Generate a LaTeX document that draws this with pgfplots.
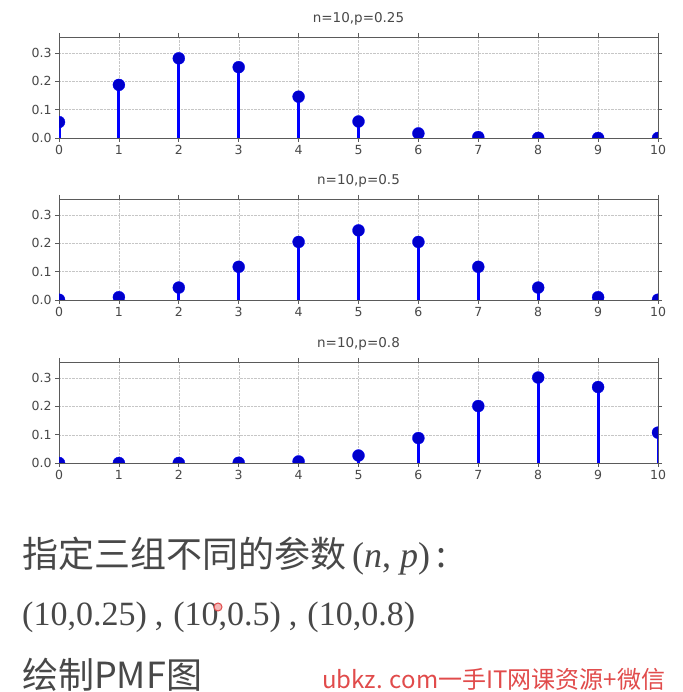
\documentclass[border=0pt]{standalone}
\usepackage{pgfplots}
\pgfplotsset{compat=1.18}
\usepackage{fontspec}
\setmainfont{DejaVu Sans}
\newfontfamily\cjk{Noto Sans CJK SC}
\newfontfamily\tms{Liberation Serif}
\definecolor{mblue}{RGB}{10,10,235}
\definecolor{txtgray}{RGB}{72,72,72}
\definecolor{wmred}{RGB}{225,75,75}
\definecolor{spine}{RGB}{90,90,90}
\pgfplotsset{pmf/.style={
  scale only axis, width=599pt, height=101pt,
  xmin=0, xmax=10, ymin=0, ymax=0.357,
  xtick={0,...,10}, ytick={0,0.1,0.2,0.3},
  yticklabel style={/pgf/number format/.cd,fixed,fixed zerofill,precision=1},
  /pgf/number format/assume math mode=true,
  tick label style={font=\fontsize{12.5}{14}\selectfont, text=txtgray},
  grid=major, major grid style={densely dotted, gray!45},
  axis line style={spine, line width=0.9pt},
  tick align=outside, tick style={spine, line width=0.8pt}, major tick length=4pt,
  title style={font=\fontsize{13.5}{15}\selectfont, text=txtgray, at={(0.5,1)}, anchor=south, yshift=2pt},
  clip marker paths=true,
  every axis plot/.append style={ycomb, mblue, line width=3pt, mark=*, mark size=6pt, mark options={solid, line width=0.3pt, fill=mblue}},
}}
\begin{document}
\begin{tikzpicture}[x=1pt,y=1pt]
\useasboundingbox (0,0) rectangle (682,692);
\fill[white] (0,0) rectangle (682,692);
\begin{axis}[pmf, at={(59pt,554pt)}, anchor=south west, title={n=10,p=0.25}]
\addplot table {
x y
0 0.0563
1 0.1877
2 0.2816
3 0.2503
4 0.1460
5 0.0584
6 0.0162
7 0.0031
8 0.0004
9 0.0000
10 0.0000
};
\end{axis}
\begin{axis}[pmf, at={(59pt,392pt)}, anchor=south west, title={n=10,p=0.5}]
\addplot table {
x y
0 0.0010
1 0.0098
2 0.0439
3 0.1172
4 0.2051
5 0.2461
6 0.2051
7 0.1172
8 0.0439
9 0.0098
10 0.0010
};
\end{axis}
\begin{axis}[pmf, at={(59pt,229pt)}, anchor=south west, title={n=10,p=0.8}]
\addplot table {
x y
0 0.0000
1 0.0000
2 0.0001
3 0.0008
4 0.0055
5 0.0264
6 0.0881
7 0.2013
8 0.3020
9 0.2684
10 0.1074
};
\end{axis}
\node[anchor=base west, inner sep=0, text=txtgray] at (22,124) {\fontsize{36}{40}\selectfont\cjk 指定三组不同的参数\,{\tms(\textit{n}, \textit{p})}\,:};
\node[anchor=base west, inner sep=0, text=txtgray] at (22,66) {\fontsize{34}{38}\selectfont\tms (10,0.25)\kern8pt,\kern10pt(10,0.5)\kern8pt,\kern10pt(10,0.8)};
\node[anchor=base west, inner sep=0, text=txtgray] at (22,4) {\fontsize{36}{40}\selectfont\cjk 绘制PMF图};
\node[anchor=base west, inner sep=0, text=wmred] at (322,4) {\fontsize{24}{27}\selectfont\cjk ubkz. com一手IT网课资源+微信};
\draw[wmred, line width=1pt, fill=wmred!40] (218,85) circle (4);
\end{tikzpicture}
\end{document}
